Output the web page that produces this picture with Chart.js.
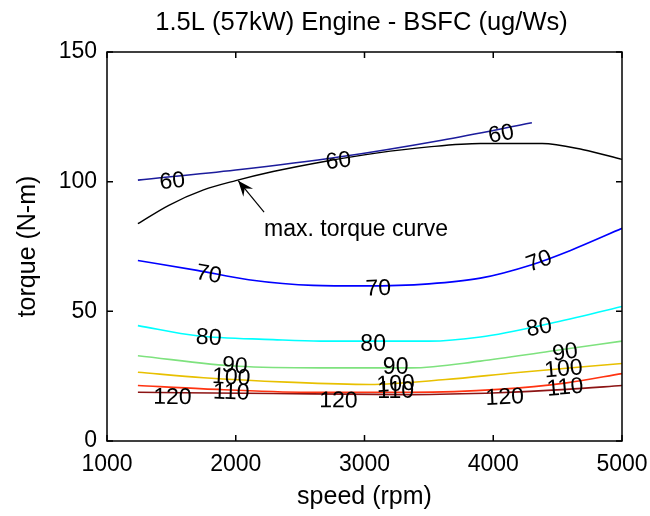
<!DOCTYPE html>
<html>
<head>
<meta charset="utf-8">
<script src="https://cdn.jsdelivr.net/npm/chart.js@4"></script>
<style>
  html, body { margin: 0; padding: 0; background: #fff; }
</style>
</head>
<body>
<canvas id="myChart" width="650" height="516"></canvas>
<script>
// axis ticks
const xTicks = [1000, 2000, 3000, 4000, 5000];
const yTicks = [0, 50, 100, 150];

// max torque curve
const maxSpeed = [1240, 1480, 1750, 2000, 2290, 2690, 3090, 3500, 3900, 4380, 4700, 5000];
const maxTorque = [83.8, 90.9, 96.8, 100.4, 103.9, 107.8, 111, 113.4, 114.7, 114.7, 112.3, 108.6];

// BSFC contours (speed rpm / torque N-m)
const levels = [60, 70, 80, 90, 100, 110, 120];
const c60Speed = [1240, 2000, 2800, 3600, 4300];
const c60Torque = [100.6, 104.5, 109.5, 116, 122.7];
const c70Speed = [1240, 1700, 2100, 2600, 3000, 3500, 3900, 4300, 4600, 5000];
const c70Torque = [69.6, 65.8, 62.2, 60.0, 59.8, 60.6, 62.8, 68, 73.5, 82];
const c80Speed = [1240, 1700, 2290, 2660, 3500, 3900, 4440, 5000];
const c80Torque = [44.5, 40.6, 39.1, 38.5, 38.5, 40.1, 45.3, 51.9];
const c90Speed = [1240, 2020, 2660, 3360, 3900, 4440, 5000];
const c90Torque = [32.9, 28.8, 28.2, 28.2, 30.8, 34.6, 38.5];
const c100Speed = [1240, 1750, 2400, 3040, 3630, 4170, 5000];
const c100Torque = [26.5, 24.4, 22.7, 21.8, 23.7, 26.3, 29.9];
const c110Speed = [1240, 1750, 2560, 3360, 4040, 4570, 5000];
const c110Torque = [21.4, 20.1, 18.8, 18.8, 19.9, 22.4, 26];
const c120Speed = [1240, 2290, 3360, 4040, 4570, 5000];
const c120Torque = [18.8, 18.3, 17.9, 18.6, 19.9, 21.4];

// contour label spots (speed / torque)
const labelSpeed = {
  60: [1508, 2798, 4062], 70: [1790, 3108, 4357], 80: [1790, 3067, 4357],
  90: [1992, 3242, 4559], 100: [1965, 3242, 4546], 110: [1965, 3242, 4559], 120: [1508, 2798, 4089]
};
const labelTorque = {
  60: [100, 107.8, 118.2], 70: [64.1, 58.6, 69.2], 80: [39.7, 37.2, 43.6],
  90: [28.8, 28.2, 34], 100: [24.4, 21.8, 27.6], 110: [18.6, 19.2, 20.5], 120: [16.7, 15.4, 16.7]
};

// arrow + note
const noteText = 'max. torque curve';
const notePos = [2220, 81.6];
const arrowTail = [2220, 88.3];
const arrowTip = [2019, 100.4];

const contourSpeed = [c60Speed, c70Speed, c80Speed, c90Speed, c100Speed, c110Speed, c120Speed];
const contourTorque = [c60Torque, c70Torque, c80Torque, c90Torque, c100Torque, c110Torque, c120Torque];
const contourColor = ['#1c1c9c', '#0000ff', '#00ffff', '#7ee27e', '#e8c000', '#ff3311', '#8c1414'];

const FONT = '"Liberation Sans", Arial, sans-serif';

function pts(xs, ys) {
  return xs.map((x, i) => ({ x: x, y: ys[i] }));
}

const datasets = levels.map((lv, i) => ({
  label: String(lv),
  data: pts(contourSpeed[i], contourTorque[i]),
  borderColor: contourColor[i],
  borderWidth: 1.6,
  pointRadius: 0,
  fill: false,
  cubicInterpolationMode: 'monotone'
}));
datasets.push({
  label: 'max torque',
  data: pts(maxSpeed, maxTorque),
  borderColor: '#000',
  borderWidth: 1.4,
  pointRadius: 0,
  fill: false,
  cubicInterpolationMode: 'monotone'
});

function slopeAngle(xs, ys, sx, sc) {
  let i = 0;
  while (i < xs.length - 2 && xs[i + 1] < sx) i++;
  const dx = sc.x.getPixelForValue(xs[i + 1]) - sc.x.getPixelForValue(xs[i]);
  const dy = sc.y.getPixelForValue(ys[i + 1]) - sc.y.getPixelForValue(ys[i]);
  return Math.atan2(dy, dx);
}

const extras = {
  id: 'extras',
  afterDraw(chart) {
    const ctx = chart.ctx;
    const a = chart.chartArea;
    const sx = chart.scales.x, sy = chart.scales.y;
    ctx.save();
    // frame
    ctx.strokeStyle = '#000';
    ctx.lineWidth = 1.5;
    ctx.strokeRect(a.left, a.top, a.right - a.left, a.bottom - a.top);
    // inner ticks
    const tl = 6;
    ctx.beginPath();
    xTicks.forEach(v => {
      const p = sx.getPixelForValue(v);
      ctx.moveTo(p, a.bottom); ctx.lineTo(p, a.bottom - tl);
      ctx.moveTo(p, a.top); ctx.lineTo(p, a.top + tl);
    });
    yTicks.forEach(v => {
      const p = sy.getPixelForValue(v);
      ctx.moveTo(a.left, p); ctx.lineTo(a.left + tl, p);
      ctx.moveTo(a.right, p); ctx.lineTo(a.right - tl, p);
    });
    ctx.stroke();

    // contour labels
    ctx.fillStyle = '#000';
    ctx.font = '23px ' + FONT;
    ctx.textAlign = 'center';
    ctx.textBaseline = 'middle';
    levels.forEach((lv, i) => {
      labelSpeed[lv].forEach((s, k) => {
        const px = sx.getPixelForValue(s);
        const py = sy.getPixelForValue(labelTorque[lv][k]);
        const ang = slopeAngle(contourSpeed[i], contourTorque[i], s, { x: sx, y: sy });
        ctx.save();
        ctx.translate(px, py);
        ctx.rotate(ang);
        ctx.fillText(String(lv), 0, 0);
        ctx.restore();
      });
    });

    // note + arrow
    ctx.textAlign = 'left';
    ctx.fillText(noteText, sx.getPixelForValue(notePos[0]), sy.getPixelForValue(notePos[1]));
    const tx = sx.getPixelForValue(arrowTail[0]), ty = sy.getPixelForValue(arrowTail[1]);
    const hx = sx.getPixelForValue(arrowTip[0]), hy = sy.getPixelForValue(arrowTip[1]);
    ctx.lineWidth = 1.2;
    ctx.beginPath(); ctx.moveTo(tx, ty); ctx.lineTo(hx, hy); ctx.stroke();
    const ang = Math.atan2(hy - ty, hx - tx);
    const L = 17, W = 0.38;
    ctx.beginPath();
    ctx.moveTo(hx, hy);
    ctx.lineTo(hx - L * Math.cos(ang - W), hy - L * Math.sin(ang - W));
    ctx.lineTo(hx - L * 0.6 * Math.cos(ang), hy - L * 0.6 * Math.sin(ang));
    ctx.lineTo(hx - L * Math.cos(ang + W), hy - L * Math.sin(ang + W));
    ctx.closePath();
    ctx.fill();

    // title
    ctx.textAlign = 'center';
    ctx.textBaseline = 'alphabetic';
    ctx.font = '25.5px ' + FONT;
    ctx.fillText('1.5L (57kW) Engine - BSFC (ug/Ws)', (a.left + a.right) / 2 - 3, 30);
    ctx.restore();
  }
};

const myChart = new Chart(document.getElementById('myChart'), {
  type: 'line',
  data: { datasets: datasets },
  options: {
    responsive: false,
    animation: false,
    layout: { padding: { top: 52, right: 28, left: 0, bottom: 0 } },
    plugins: { legend: { display: false }, tooltip: { enabled: false }, title: { display: false } },
    scales: {
      x: {
        type: 'linear', min: 1000, max: 5000,
        afterBuildTicks: (s) => { s.ticks = xTicks.map(v => ({ value: v })); },
        afterFit: (s) => { s.height = 75; s.paddingLeft = 0; s.paddingRight = 0; },
        grid: { display: false, drawTicks: false },
        border: { display: false },
        ticks: { color: '#000', font: { family: FONT, size: 23 }, padding: 10, maxRotation: 0, callback: (v) => String(v) },
        title: { display: true, text: 'speed (rpm)', color: '#000', font: { family: FONT, size: 25 }, padding: { top: 0, bottom: 4 } }
      },
      y: {
        type: 'linear', min: 0, max: 150,
        afterBuildTicks: (s) => { s.ticks = yTicks.map(v => ({ value: v })); },
        afterFit: (s) => { s.width = 107; s.paddingTop = 0; s.paddingBottom = 0; },
        grid: { display: false, drawTicks: false },
        border: { display: false },
        ticks: { color: '#000', font: { family: FONT, size: 23 }, padding: 10, callback: (v) => String(v) },
        title: { display: true, text: 'torque (N-m)', color: '#000', font: { family: FONT, size: 25 }, padding: { top: 13, bottom: 0 } }
      }
    }
  },
  plugins: [extras]
});
</script>
</body>
</html>
